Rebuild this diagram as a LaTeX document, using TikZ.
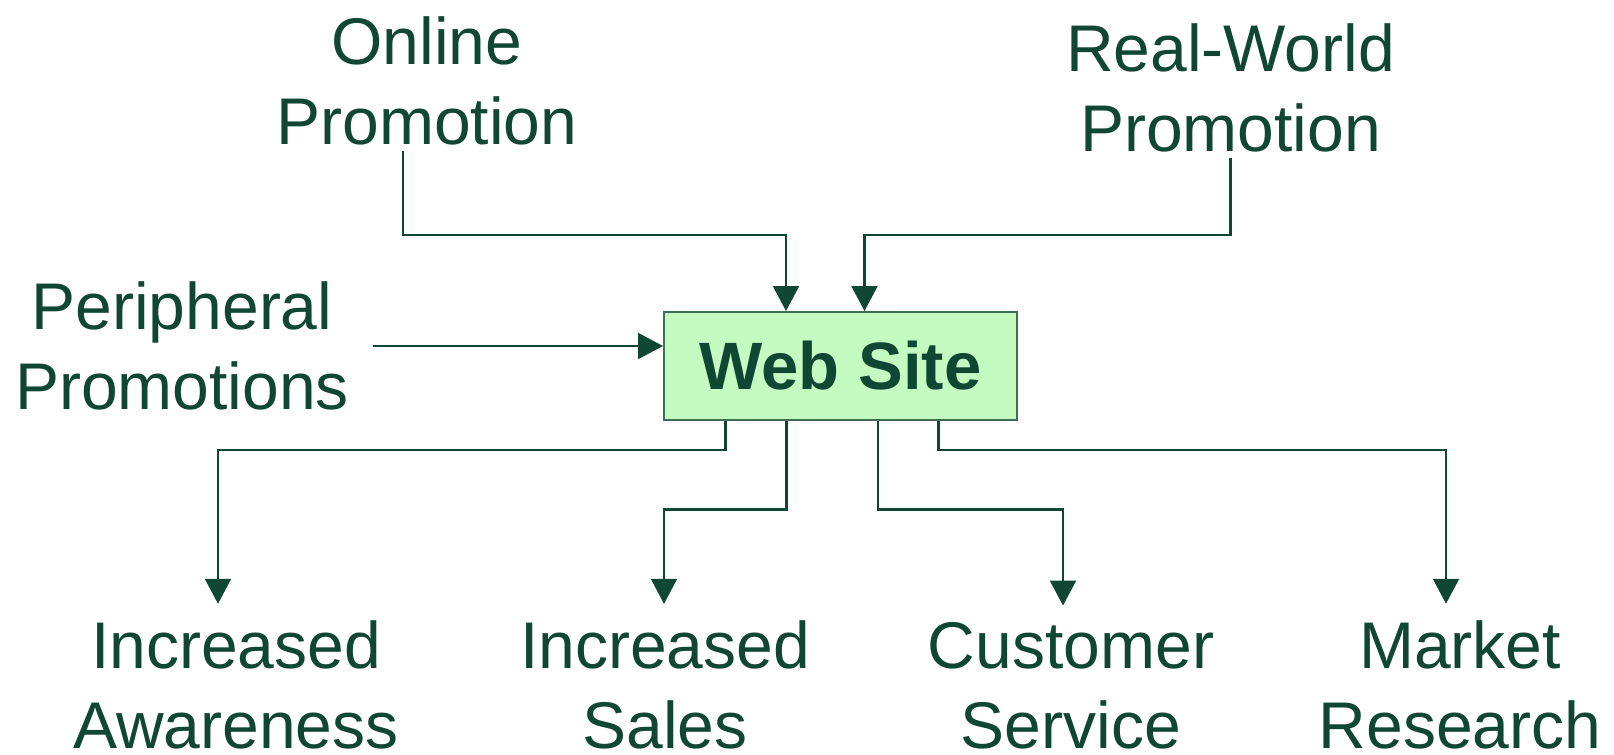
\documentclass[tikz,border=0pt]{standalone}
\usepackage{fontspec}
\setmainfont{Liberation Sans}
\usetikzlibrary{arrows.meta}
\definecolor{leaf}{RGB}{16,70,52}
\definecolor{mint}{RGB}{196,251,192}
\definecolor{edge}{RGB}{62,110,85}

\begin{document}
\begin{tikzpicture}[x=0.5pt, y=-0.5pt,
    label/.style={align=center, inner sep=0pt, text=leaf, font=\fontsize{33}{40}\selectfont, anchor=base},
    link/.style={draw=leaf, line width=1.1pt, -{Triangle[length=12.5pt, width=13pt]}}]
    \useasboundingbox (0,0) rectangle (1614,755);
    \node [draw=edge, line width=1pt, fill=mint, minimum width=176.5pt, minimum height=54pt, inner sep=0pt,
           text=leaf, font=\fontsize{33.5}{40}\selectfont\bfseries] (site) at (840.5,366) {Web Site};
    \node [label] (online) at (427,144) {Online\\Promotion};
    \node [label] (realworld) at (1230.5,151) {Real-World\\Promotion};
    \node [label] (peripheral) at (182,409) {Peripheral\\Promotions};
    \node [label] (awareness) at (236,748) {Increased\\Awareness};
    \node [label] (sales) at (665,748) {Increased\\Sales};
    \node [label] (service) at (1071,748) {Customer\\Service};
    \node [label] (research) at (1460,748) {Market\\Research};
    % incoming
    \coordinate (onturn) at (786,235);
    \coordinate (rwturn) at (864.5,235);
    \draw [link, shorten <=3pt] ([xshift=-12pt]online.south) |- (onturn) -- (site.north -| onturn);
    \draw [link, shorten <=3pt] (realworld.south) |- (rwturn) -- (site.north -| rwturn);
    \draw [link] (373,346) coordinate (pstart) -- (site.west |- pstart);
    % outgoing
    \coordinate (awturn) at (218,450);
    \coordinate (saturn) at (664,509.5);
    \coordinate (seturn) at (1063,509.5);
    \coordinate (return) at (1446,450);
    \draw [link, shorten >=8pt] ([xshift=-57.5pt]site.south) |- (awturn) -- (awturn |- awareness.north);
    \draw [link, shorten >=8pt] ([xshift=-27pt]site.south) |- (saturn) -- (saturn |- sales.north);
    \draw [link, shorten >=8pt] ([xshift=18.75pt]site.south) |- (seturn) -- (seturn |- service.north);
    \draw [link, shorten >=8pt] ([xshift=49pt]site.south) |- (return) -- (return |- research.north);
\end{tikzpicture}
\end{document}
